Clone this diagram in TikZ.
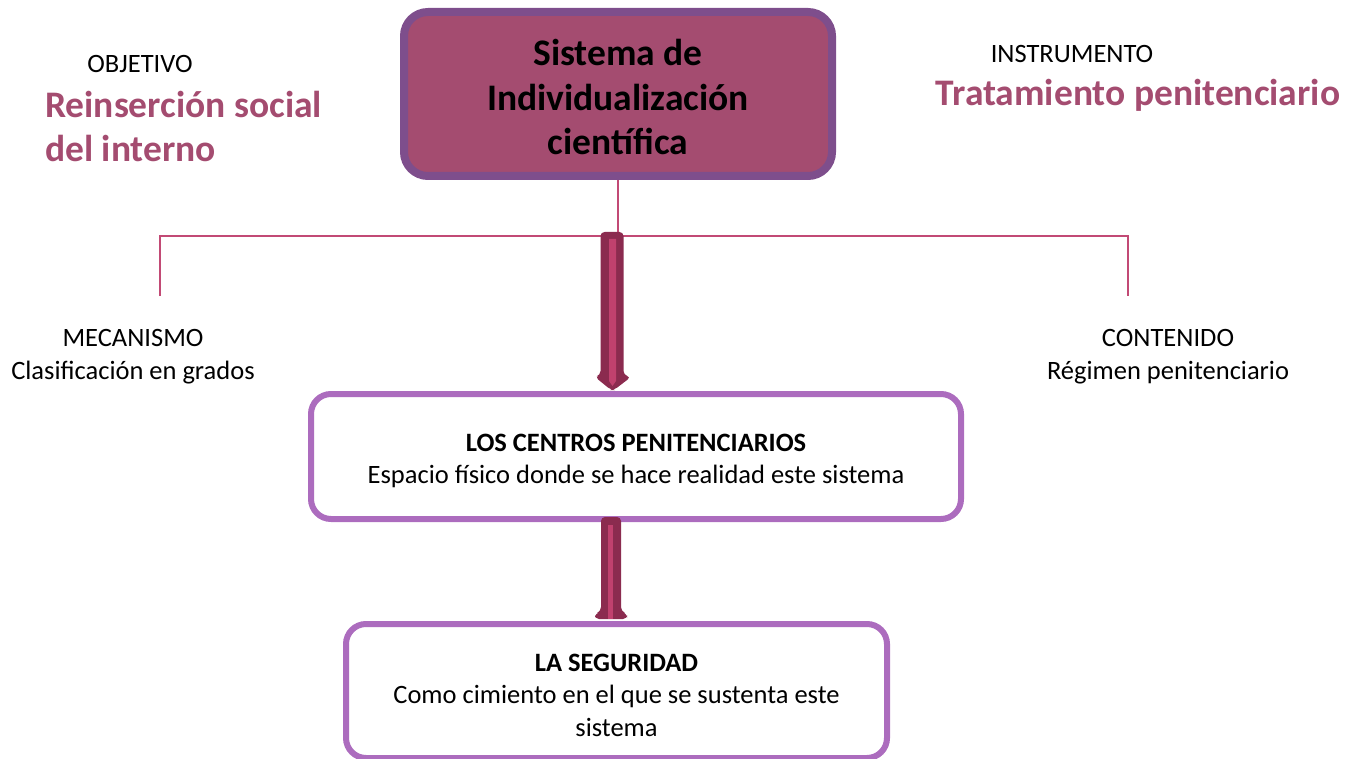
\documentclass[tikz,border=0pt]{standalone}
\usepackage{fontspec}
\setmainfont{Carlito}
\usetikzlibrary{calc}
\definecolor{topfill}{HTML}{A44C70}
\definecolor{topborder}{HTML}{7E4E8C}
\definecolor{boxborder}{HTML}{AC6CBE}
\definecolor{pinktxt}{HTML}{A44C70}
\definecolor{treeline}{HTML}{C24A75}
\definecolor{arrdark}{HTML}{8B2B4F}
\definecolor{arrlight}{HTML}{C0416E}
\begin{document}
\begin{tikzpicture}[x=1pt,y=-1pt,
  small/.style={font=\fontsize{26.5}{32.5}\selectfont, align=center, inner sep=0pt},
  big/.style={font=\fontsize{37.5}{44}\selectfont\bfseries, text=pinktxt, align=left, inner sep=0pt},
  topbox/.style={draw=topborder, fill=topfill, line width=8pt, rounded corners=24pt,
    minimum width=428pt, minimum height=164pt, inner sep=0pt},
  toptext/.style={align=center, inner sep=0pt, font=\fontsize{37.5}{44.5}\selectfont\bfseries},
  whitebox/.style={draw=boxborder, fill=white, line width=6pt, rounded corners=20pt, inner sep=0pt},
  boxtext/.style={align=center, inner sep=0pt, font=\fontsize{26.5}{32.5}\selectfont},
  tree/.style={draw=treeline, line width=2pt}]
\useasboundingbox (0,0) rectangle (1351,759);

% boxes
\node[topbox] (sys) at (618,94) {};
\node[toptext] (systxt) at (618,97) {Sistema de\\Individualización\\científica};
\node[whitebox, minimum width=650pt, minimum height=125pt] (cen) at (636,456.5) {};
\node[boxtext] (centxt) at (636,461) {\textbf{LOS CENTROS PENITENCIARIOS}\\Espacio físico donde se hace realidad este sistema};
\node[whitebox, minimum width=541pt, minimum height=134pt] (seg) at (616.5,691) {};
\node[boxtext] (segtxt) at (616.5,695) {\textbf{LA SEGURIDAD}\\Como cimiento en el que se sustenta este\\sistema};

% free labels
\node[small] (obj) at (140,64) {OBJETIVO};
\node[big, anchor=west] (rein) at (45,126) {Reinserción social\\del interno};
\node[small] (ins) at (1072,54) {INSTRUMENTO};
\node[big] (trat) at (1138,95) {Tratamiento penitenciario};
\node[small] (mec) at (133,356.5) {MECANISMO\\Clasificación en grados};
\node[small] (con) at (1168,356.5) {CONTENIDO\\Régimen penitenciario};

% tree connectors
\coordinate (hub) at (618,236);
\coordinate (lft) at (160,296);
\coordinate (rgt) at (1128,296);
\draw[tree] (sys.south) -- (hub);
\draw[tree] (lft) |- (hub) -| (rgt);

% fat arrow 1
\fill[arrdark, rounded corners=4pt] (600.5,232) -- (623.5,232) -- (623.5,375)
  -- (631,377) -- (614,390) -- (611,390) -- (595,377) -- (600.5,375) -- cycle;
\fill[arrlight] (609,239) -- (616,239) -- (616,381) -- (612.5,386) -- (609,381) -- cycle;

% fat arrow 2
\fill[arrdark, rounded corners=4pt] (601,517) -- (621,517) -- (621,611)
  -- (627,614) -- (627,619) -- (595,619) -- (595,614) -- (601,611) -- cycle;
\fill[arrlight] (608,525) -- (613,525) -- (613,619) -- (608,619) -- cycle;
\end{tikzpicture}
\end{document}
